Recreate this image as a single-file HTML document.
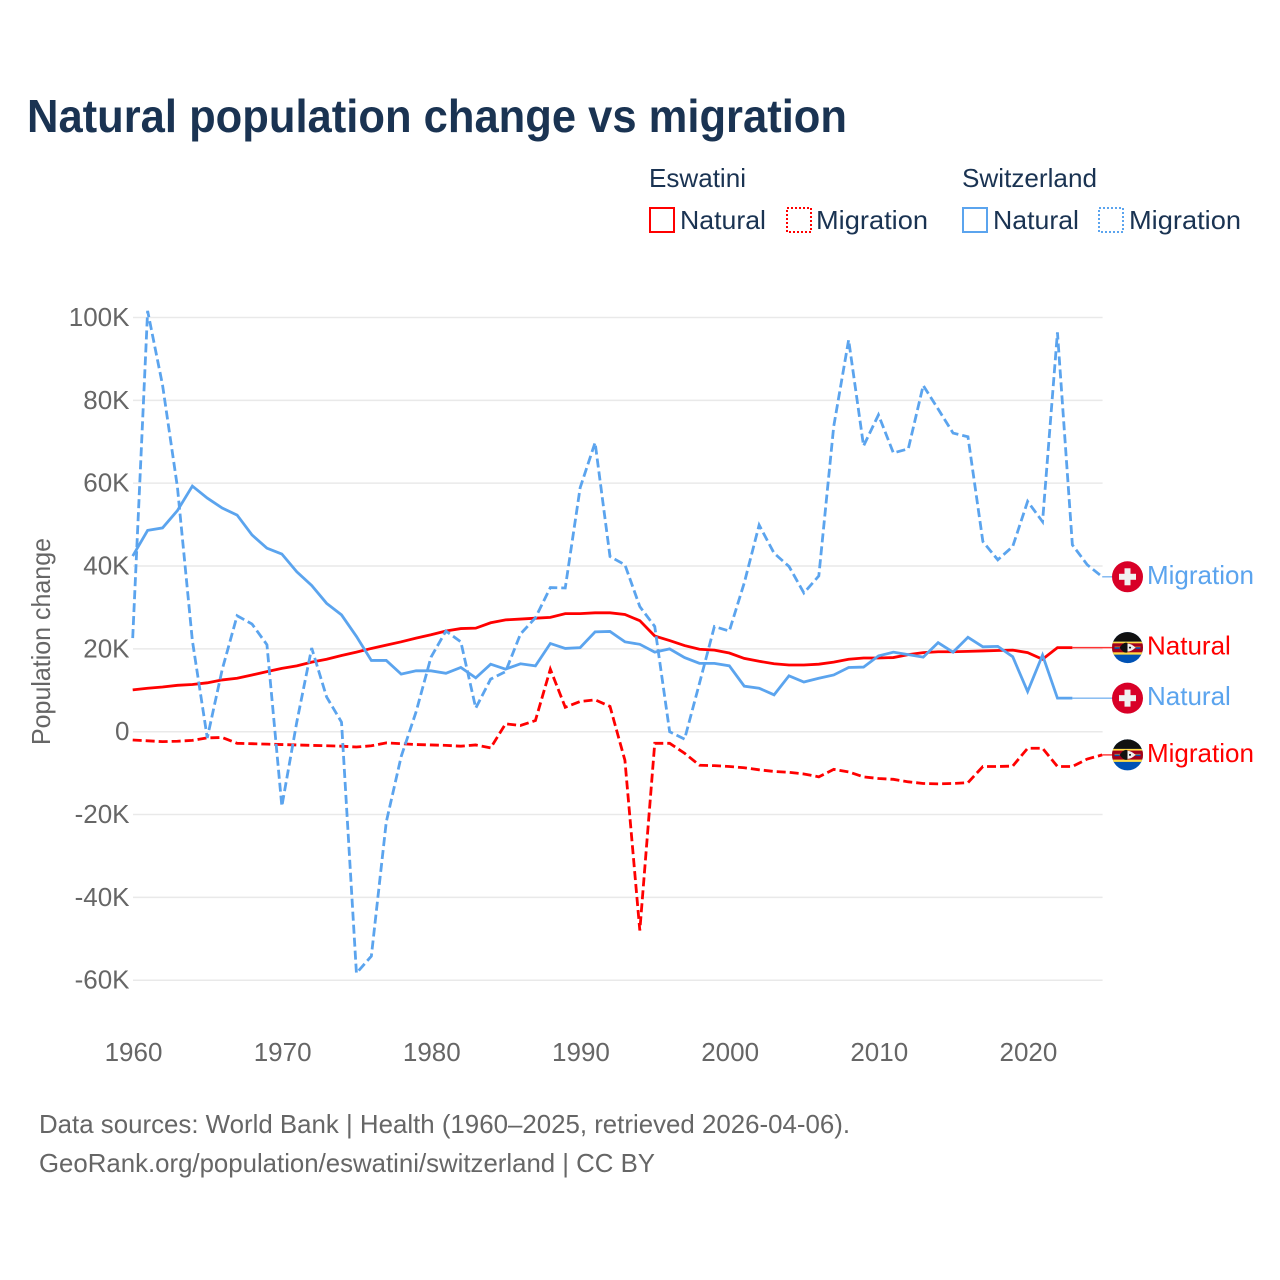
<!DOCTYPE html>
<html lang="en">
<head>
<meta charset="utf-8">
<title>Natural population change vs migration</title>
<style>
  html, body { margin: 0; padding: 0; background: #fff; }
  svg { display: block; font-family: "Liberation Sans", sans-serif; }
</style>
</head>
<body>
<svg id="chart" xmlns="http://www.w3.org/2000/svg" width="1280" height="1280" viewBox="0 0 1280 1280">
  <defs>
    <clipPath id="flag-clip"><circle cx="0" cy="0" r="15.5"/></clipPath>
    <g id="flag-ch">
      <circle cx="0" cy="0" r="15.5" fill="#d80027"/>
      <rect x="-8.5" y="-3" width="17" height="6" fill="#f0f0f0"/>
      <rect x="-3" y="-8.5" width="6" height="17" fill="#f0f0f0"/>
    </g>
    <g id="flag-sz">
      <g clip-path="url(#flag-clip)">
        <rect x="-16" y="-16" width="32" height="32" fill="#0052b4"/>
        <rect x="-16" y="-16" width="32" height="10" fill="#111111"/>
        <rect x="-16" y="-6" width="32" height="13" fill="#ffda44"/>
        <rect x="-16" y="-4.3" width="32" height="9" fill="#a2001d"/>
        <rect x="-13" y="-1" width="26" height="1.6" fill="#ff9811"/>
        <rect x="-13" y="-0.4" width="5" height="1.6" fill="#0052b4"/>
        <rect x="8" y="-0.4" width="5" height="1.6" fill="#0052b4"/>
        <path d="M-8 0 Q0 -8 8 0 Q0 8 -8 0Z" fill="#f0f0f0"/>
        <path d="M-8 0 Q-3.5 -6.5 0 -4.6 L0 4.6 Q-3.5 6.5 -8 0Z" fill="#111111"/>
        <circle cx="2.5" cy="0" r="1" fill="#111111"/>
      </g>
    </g>
  </defs>

  <text x="27" y="132" font-size="46" font-weight="700" fill="#1a3352" textLength="820" lengthAdjust="spacingAndGlyphs">Natural population change vs migration</text>

  <g font-size="26" fill="#1a3352">
    <text x="649" y="187" textLength="97" lengthAdjust="spacingAndGlyphs">Eswatini</text>
    <text x="962" y="187" textLength="135" lengthAdjust="spacingAndGlyphs">Switzerland</text>
    <g>
      <rect x="650" y="208" width="24" height="24" fill="none" stroke="#ff0000" stroke-width="2"/>
      <text x="680" y="229" textLength="86" lengthAdjust="spacingAndGlyphs">Natural</text>
    </g>
    <g>
      <rect x="787" y="208" width="24" height="24" fill="none" stroke="#ff0000" stroke-width="2" stroke-dasharray="2 2"/>
      <text x="816" y="229" textLength="112" lengthAdjust="spacingAndGlyphs">Migration</text>
    </g>
    <g>
      <rect x="963" y="208" width="24" height="24" fill="none" stroke="#5ba4ee" stroke-width="2"/>
      <text x="993" y="229" textLength="86" lengthAdjust="spacingAndGlyphs">Natural</text>
    </g>
    <g>
      <rect x="1099" y="208" width="24" height="24" fill="none" stroke="#5ba4ee" stroke-width="2" stroke-dasharray="2 2"/>
      <text x="1129" y="229" textLength="112" lengthAdjust="spacingAndGlyphs">Migration</text>
    </g>
  </g>

  <text transform="translate(50,745) rotate(-90)" font-size="26" fill="#666666" textLength="207" lengthAdjust="spacingAndGlyphs">Population change</text>

  <g id="grid"></g>
  <g id="yticks" font-size="26" fill="#666666" text-anchor="end"></g>
  <g id="xticks" font-size="26" fill="#666666" text-anchor="middle"></g>
  <g id="series"></g>
  <g id="endlabels" font-size="26"></g>

  <g font-size="26" fill="#666666">
    <text x="39" y="1133" textLength="811" lengthAdjust="spacingAndGlyphs">Data sources: World Bank | Health (1960–2025, retrieved 2026-04-06).</text>
    <text x="39" y="1172" textLength="616" lengthAdjust="spacingAndGlyphs">GeoRank.org/population/eswatini/switzerland | CC BY</text>
  </g>
</svg>

<script>
const firstYear = 1960;
const xTickYears = [1960, 1970, 1980, 1990, 2000, 2010, 2020];
const yTickValues = [100, 80, 60, 40, 20, 0, -20, -40, -60];
const yTickLabels = ["100K", "80K", "60K", "40K", "20K", "0", "-20K", "-40K", "-60K"];

// Values in thousands, one per year from 1960.
const eswatiniNatural = [10.1, 10.5, 10.8, 11.2, 11.4, 11.8, 12.5, 12.9, 13.7, 14.5, 15.3, 15.9, 16.8, 17.5, 18.4, 19.2, 20.1, 20.9, 21.7, 22.6, 23.4, 24.3, 24.9, 25, 26.3, 27, 27.2, 27.4, 27.6, 28.5, 28.5, 28.7, 28.7, 28.3, 26.8, 23.1, 22, 20.8, 19.9, 19.7, 19, 17.7, 17, 16.4, 16.1, 16.1, 16.3, 16.8, 17.5, 17.8, 17.8, 17.9, 18.6, 19.1, 19.3, 19.3, 19.4, 19.5, 19.6, 19.7, 19.1, 17.5, 20.3, 20.3];
const eswatiniMigration = [-2, -2.2, -2.4, -2.3, -2.1, -1.5, -1.4, -2.8, -2.9, -3, -3.1, -3.2, -3.3, -3.4, -3.5, -3.7, -3.4, -2.7, -2.9, -3.1, -3.2, -3.3, -3.5, -3.2, -3.9, 1.9, 1.5, 2.7, 15.1, 5.9, 7.3, 7.7, 6.1, -6.9, -48, -2.8, -2.8, -5.2, -8.1, -8.2, -8.4, -8.7, -9.2, -9.6, -9.8, -10.2, -10.9, -9.1, -9.7, -10.9, -11.3, -11.5, -12.1, -12.5, -12.6, -12.5, -12.3, -8.4, -8.4, -8.3, -4, -4, -8.4, -8.4, -6.6, -5.6];
const switzerlandNatural = [42.4, 48.6, 49.2, 53.4, 59.3, 56.4, 54, 52.3, 47.5, 44.3, 42.9, 38.6, 35.3, 31, 28.2, 23, 17.2, 17.2, 13.9, 14.7, 14.7, 14.1, 15.5, 13, 16.3, 15.1, 16.4, 15.9, 21.3, 20.1, 20.3, 24.1, 24.2, 21.7, 21.1, 19.2, 20, 17.9, 16.5, 16.5, 15.9, 11, 10.5, 8.9, 13.5, 12, 12.9, 13.7, 15.5, 15.6, 18.3, 19.2, 18.6, 18, 21.5, 19.2, 22.8, 20.5, 20.6, 18.1, 9.7, 18.5, 8.1, 8.1];
const switzerlandMigration = [22.6, 101.6, 83.7, 59, 22, -1.5, 15, 28, 26, 21, -18, 2.3, 20.2, 8.4, 2.3, -58.3, -54.2, -21.8, -6, 4.8, 18, 24.3, 21.7, 5.7, 12.7, 14.5, 23.6, 27.5, 34.8, 34.7, 58.9, 69.8, 42.3, 40.3, 30.2, 25.4, 0, -1.8, 11.7, 25.4, 24.3, 35.9, 49.9, 43.1, 39.9, 33.5, 37.6, 73.7, 94.6, 69, 76.5, 67.3, 68.3, 83.6, 77.9, 72.1, 71.2, 45.9, 41.5, 44.7, 55.6, 50.7, 96.4, 45.1, 40.3, 37.4];

const plotLeft = 132.7;
const plotRight = 1102.2;
const gridLeft = 133;
const gridRight = 1102.6;
const connectorEnd = 1112;
const flagX = 1127.5;
const labelX = 1147;
const red = "#ff0000";
const blue = "#5ba4ee";
const NS = "http://www.w3.org/2000/svg";

function xScale(year) { return plotLeft + (year - firstYear) * (plotRight - plotLeft) / 65; }
function yScale(v) { return 731.7 - v * 4.142; }

const gridG = document.getElementById("grid");
const yG = document.getElementById("yticks");
const xG = document.getElementById("xticks");
const seriesG = document.getElementById("series");
const labelsG = document.getElementById("endlabels");

yTickValues.forEach(function (v, i) {
  const line = document.createElementNS(NS, "line");
  
  
  line.setAttribute("x1", gridLeft);
  line.setAttribute("x2", gridRight);
  line.setAttribute("y1", yScale(v));
  line.setAttribute("y2", yScale(v));
  line.setAttribute("stroke", "#e9e9e9");
  line.setAttribute("stroke-width", "1.5");
  gridG.appendChild(line);

  const t = document.createElementNS(NS, "text");
  
  
  t.setAttribute("x", 129.5);
  t.setAttribute("y", yScale(v) + 8.5);
  t.textContent = yTickLabels[i];
  yG.appendChild(t);
});

xTickYears.forEach(function (year) {
  const t = document.createElementNS(NS, "text");
  
  
  t.setAttribute("x", xScale(year) + 0.8);
  t.setAttribute("y", 1061);
  t.textContent = String(year);
  xG.appendChild(t);
});

function drawSeries(values, color, dashed) {
  const pts = values.map(function (v, i) {
    return xScale(firstYear + i).toFixed(2) + "," + yScale(v).toFixed(2);
  }).join(" ");
  const line = document.createElementNS(NS, "polyline");
  
  
  line.setAttribute("points", pts);
  line.setAttribute("fill", "none");
  line.setAttribute("stroke", color);
  line.setAttribute("stroke-width", "2.8");
  line.setAttribute("stroke-linejoin", "miter");
  if (dashed) { line.setAttribute("stroke-dasharray", "9 4"); }
  seriesG.appendChild(line);

  const last = values[values.length - 1];
  const conn = document.createElementNS(NS, "line");
  
  
  conn.setAttribute("x1", xScale(firstYear + values.length - 1));
  conn.setAttribute("x2", connectorEnd);
  conn.setAttribute("y1", yScale(last));
  conn.setAttribute("y2", yScale(last));
  conn.setAttribute("stroke", color);
  conn.setAttribute("stroke-width", "1.4");
  conn.setAttribute("stroke-opacity", "0.8");
  seriesG.appendChild(conn);
}

function drawEndLabel(values, color, flagId, text) {
  const y = yScale(values[values.length - 1]);
  const flag = document.createElementNS(NS, "use");
  
  
  flag.setAttribute("href", "#" + flagId);
  flag.setAttribute("transform", "translate(" + flagX + "," + y + ")");
  labelsG.appendChild(flag);

  const t = document.createElementNS(NS, "text");
  
  
  t.setAttribute("x", labelX);
  t.setAttribute("y", y + 7);
  t.setAttribute("fill", color);
  t.textContent = text;
  labelsG.appendChild(t);
}

drawSeries(eswatiniNatural, red, false);
drawSeries(eswatiniMigration, red, true);
drawSeries(switzerlandNatural, blue, false);
drawSeries(switzerlandMigration, blue, true);

drawEndLabel(eswatiniNatural, red, "flag-sz", "Natural");
drawEndLabel(eswatiniMigration, red, "flag-sz", "Migration");
drawEndLabel(switzerlandNatural, blue, "flag-ch", "Natural");
drawEndLabel(switzerlandMigration, blue, "flag-ch", "Migration");
</script>
</body>
</html>
